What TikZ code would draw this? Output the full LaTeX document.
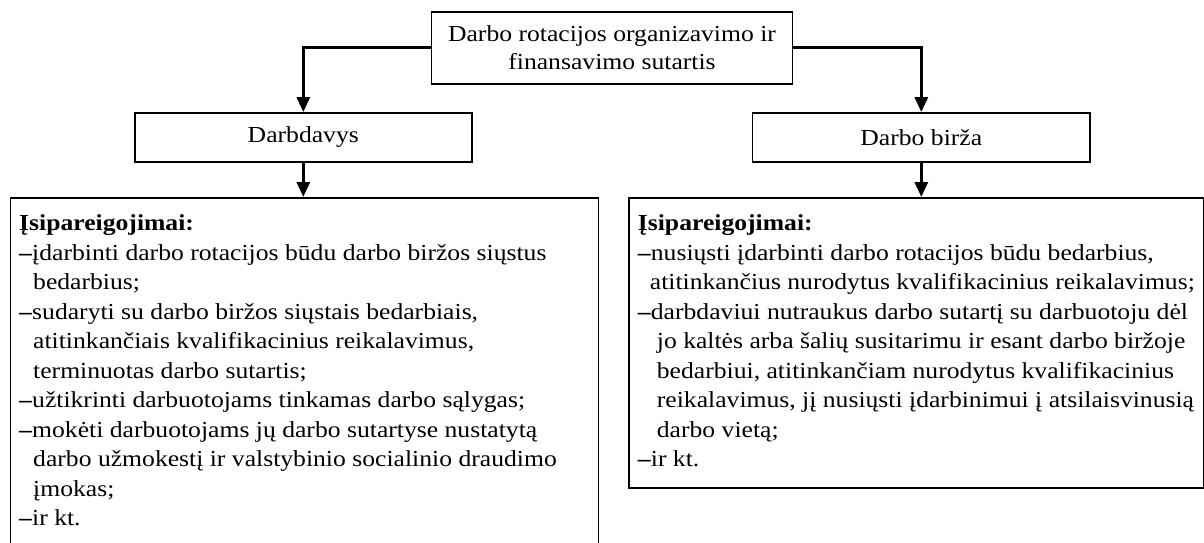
\documentclass[tikz,border=0pt]{standalone}
\usepackage{fontspec}
\setmainfont[FakeStretch=1.12]{Liberation Serif}
\usetikzlibrary{arrows.meta}
\begin{document}
\begin{tikzpicture}[x=1pt,y=-1pt,
  font=\fontsize{22.9}{29.5}\selectfont,
  box/.style={draw, line width=1.8pt, inner sep=0pt},
  conn/.style={line width=3pt, -{Triangle[width=13pt,length=15pt]}},
  body/.style={align=left, anchor=north west, inner sep=0pt}]
\useasboundingbox (0,0) rectangle (1204,543);
\clip (0,0) rectangle (1204,543);
\node[box, minimum width=361pt, minimum height=72pt, align=center,
  font=\fontsize{22.9}{28}\selectfont] (top) at (612,48)
  {Darbo rotacijos organizavimo ir\\finansavimo sutartis};
\node[box, minimum width=337pt, minimum height=49pt] (emp) at (303.3,137.5) {Darbdavys};
\node[box, minimum width=337.5pt, minimum height=49pt] (ex) at (921.3,137.5) {Darbo birža};
\node[box, minimum width=588pt, minimum height=380pt, anchor=north west] (L) at (9.6,197) {};
\node[box, minimum width=575pt, minimum height=290pt, anchor=north west] (R) at (627.7,197) {};
\draw[conn] (top.west) -| (emp.north);
\draw[conn] (top.east) -| (ex.north);
\draw[conn] (emp.south) -- (emp.south |- L.north);
\draw[conn] (ex.south) -- (ex.south |- R.north);
\node[body] (Lt) at (19,214.5) {\textbf{Įsipareigojimai:}\\
\textbf{–}įdarbinti darbo rotacijos būdu darbo biržos siųstus\\
\hspace*{14pt}bedarbius;\\
\textbf{–}sudaryti su darbo biržos siųstais bedarbiais,\\
\hspace*{14pt}atitinkančiais kvalifikacinius reikalavimus,\\
\hspace*{14pt}terminuotas darbo sutartis;\\
\textbf{–}užtikrinti darbuotojams tinkamas darbo sąlygas;\\
\textbf{–}mokėti darbuotojams jų darbo sutartyse nustatytą\\
\hspace*{14pt}darbo užmokestį ir valstybinio socialinio draudimo\\
\hspace*{14pt}įmokas;\\
\textbf{–}ir kt.};
\node[body] (Rt) at (637.7,214.5) {\textbf{Įsipareigojimai:}\\
\textbf{–}nusiųsti įdarbinti darbo rotacijos būdu bedarbius,\\
\hspace*{12pt}atitinkančius nurodytus kvalifikacinius reikalavimus;\\
\textbf{–}darbdaviui nutraukus darbo sutartį su darbuotoju dėl\\
\hspace*{19pt}jo kaltės arba šalių susitarimu ir esant darbo biržoje\\
\hspace*{19pt}bedarbiui, atitinkančiam nurodytus kvalifikacinius\\
\hspace*{19pt}reikalavimus, jį nusiųsti įdarbinimui į atsilaisvinusią\\
\hspace*{19pt}darbo vietą;\\
\textbf{–}ir kt.};
\end{tikzpicture}
\end{document}
